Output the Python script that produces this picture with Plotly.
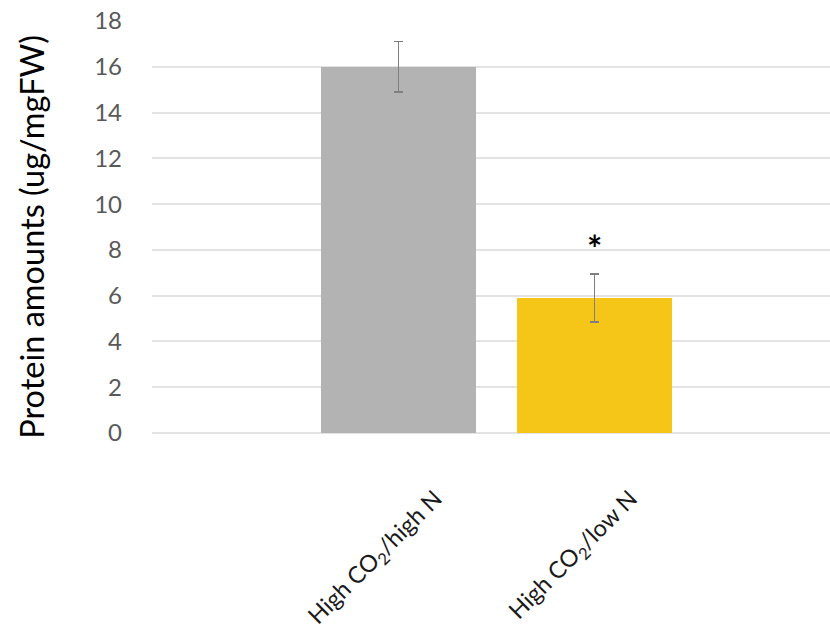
import plotly.graph_objects as go

# Protein content per growth condition
categories = ["High CO<sub>2</sub>/high N", "High CO<sub>2</sub>/low N"]
protein = [16.0, 5.9]
protein_err = [1.1, 1.05]
bar_colors = ["#b2b3b2", "#f5c518"]
significance = ["", "*"]

y_ticks = list(range(0, 19, 2))
y_title = "Protein amounts (ug/mgFW)"

positions = list(range(len(categories)))

fig = go.Figure()
fig.add_trace(go.Bar(
    x=positions,
    y=protein,
    width=0.79,
    marker=dict(color=bar_colors, line=dict(width=0)),
    error_y=dict(type="data", array=protein_err, visible=True,
                 color="#7f7f7f", thickness=1.5, width=4.5),
    showlegend=False,
    hoverinfo="skip",
))

font_family = "Lato, 'Open Sans', sans-serif"

# rotated category labels under the axis
for pos, label in zip(positions, categories):
    fig.add_annotation(
        x=pos, y=0, xref="x", yref="y",
        text=label, textangle=-45,
        xanchor="right", yanchor="top",
        xshift=54, yshift=-48,
        showarrow=False,
        font=dict(family=font_family, size=23.5, color="#1a1a1a"),
    )

# significance markers above the error bars
for pos, val, err, mark in zip(positions, protein, protein_err, significance):
    if mark:
        fig.add_annotation(
            x=pos, y=val + err, xref="x", yref="y",
            text="<b>" + mark + "</b>", showarrow=False,
            yanchor="bottom", yshift=2,
            font=dict(family=font_family, size=36, color="#000000"),
        )

# vertical axis title
fig.add_annotation(
    x=-0.178, y=0.477, xref="paper", yref="paper",
    text=y_title, textangle=-90, showarrow=False,
    xanchor="center", yanchor="middle",
    font=dict(family=font_family, size=32.5, color="#000000"),
)

fig.update_layout(
    width=830, height=632,
    margin=dict(l=152, r=0, t=21, b=199),
    paper_bgcolor="white",
    plot_bgcolor="white",
    font=dict(family=font_family),
    bargap=0,
)
fig.update_xaxes(
    range=[-1.255, 2.199],
    showticklabels=False, showgrid=False, zeroline=False,
    showline=False, ticks="",
)
fig.update_yaxes(
    range=[0, 18],
    tickvals=y_ticks,
    tickfont=dict(family=font_family, size=24, color="#595959"),
    showgrid=True, gridcolor="#e3e3e3", gridwidth=1.5,
    zeroline=True, zerolinecolor="#e3e3e3", zerolinewidth=1.5,
    showline=False, ticks="", ticklabelstandoff=29,
)

fig.write_html("out.html")
